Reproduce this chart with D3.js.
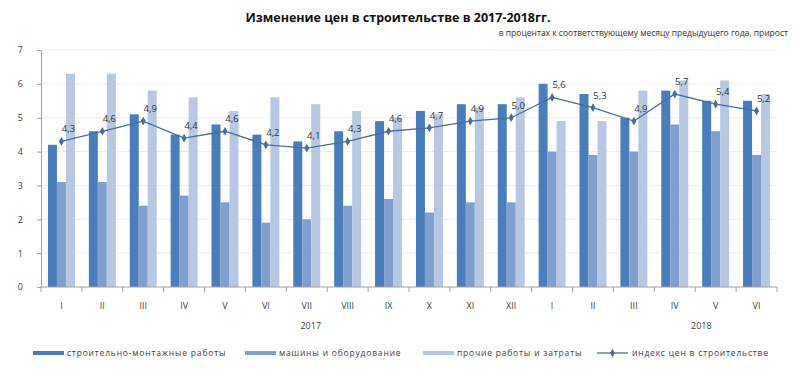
<!DOCTYPE html>
<html>
<head>
<meta charset="utf-8">
<script src="https://cdn.jsdelivr.net/npm/d3@7"></script>
<style>
  body { margin: 0; background: #fff; }
  text { font-family: "Open Sans", "DejaVu Sans", sans-serif; fill: #404040; }
  .title { font-weight: bold; font-size: 12.5px; fill: #111; }
  .sub { font-size: 8.5px; fill: #333; }
  .tick text { font-size: 9px; fill: #404040; }
  .lbl { font-size: 9.5px; fill: #333; }
  .leg { font-size: 8.5px; letter-spacing: 0.8px; fill: #404040; }
</style>
</head>
<body>
<div id="chart"></div>
<script>

var months = ["I","II","III","IV","V","VI","VII","VIII","IX","X","XI","XII",
              "I","II","III","IV","V","VI"];
var smr    = [4.2,4.6,5.1,4.5,4.8,4.5,4.3,4.6,4.9,5.2,5.4,5.4, 6.0,5.7,5.0,5.8,5.5,5.5];
var mach   = [3.1,3.1,2.4,2.7,2.5,1.9,2.0,2.4,2.6,2.2,2.5,2.5, 4.0,3.9,4.0,4.8,4.6,3.9];
var other  = [6.3,6.3,5.8,5.6,5.2,5.6,5.4,5.2,5.0,5.1,5.3,5.6, 4.9,4.9,5.8,6.1,6.1,5.7];
var index  = [4.3,4.6,4.9,4.4,4.6,4.2,4.1,4.3,4.6,4.7,4.9,5.0, 5.6,5.3,4.9,5.7,5.4,5.2];
var yTicks = [0,1,2,3,4,5,6,7];
var seriesNames = ["строительно-монтажные работы", "машины и оборудование",
                   "прочие работы и затраты", "индекс цен в строительстве"];
var colors = ["#4a7dba", "#809fcf", "#b8c7e2", "#4a6c9f"];

var W = 800, H = 372;
var margin = { left: 41, right: 23, top: 50, bottom: 85 };
var width = W - margin.left - margin.right;
var height = H - margin.top - margin.bottom;

var svg = d3.select("#chart").append("svg")
    .attr("width", W).attr("height", H);

svg.append("text").attr("class", "title")
    .attr("x", 398).attr("y", 22).attr("text-anchor", "middle")
    .text("Изменение цен в строительстве  в 2017-2018гг.");

svg.append("text").attr("class", "sub")
    .attr("x", 788).attr("y", 36).attr("text-anchor", "end")
    .text("в процентах к соответствующему месяцу предыдущего года, прирост");

var g = svg.append("g")
    .attr("transform", "translate(" + margin.left + "," + margin.top + ")");

var idx = d3.range(months.length);

var x = d3.scaleBand().domain(idx).range([0, width]).paddingInner(0).paddingOuter(0);
var inner = d3.scaleBand().domain([0,1,2]).range([x.bandwidth() * 0.17, x.bandwidth() * 0.83]);
var y = d3.scaleLinear().domain([0, 7]).range([height, 0]);

// gridlines
g.selectAll(".grid").data(yTicks.slice(1)).enter()
  .append("line")
    .attr("x1", 0).attr("x2", width)
    .attr("y1", function(d){ return y(d) }).attr("y2", function(d){ return y(d) })
    .attr("stroke", "#eeeeee").attr("stroke-width", 1);

// bars
var series = [smr, mach, other];
series.forEach(function(s, k) {
  g.selectAll(".bar" + k).data(s).enter()
    .append("rect")
      .attr("x", function(d, i){ return x(i) + inner(k) })
      .attr("y", function(d){ return y(d) })
      .attr("width", inner.bandwidth())
      .attr("height", function(d){ return height - y(d) })
      .attr("fill", colors[k]);
});

// axes
var yAxis = d3.axisLeft(y).tickValues(yTicks).tickFormat(d3.format("d")).tickSize(4).tickPadding(14);
var ya = g.append("g").attr("class", "axis").call(yAxis);
ya.select(".domain").attr("stroke", "#a0a0a0");
ya.selectAll(".tick line").attr("stroke", "#a0a0a0");

var xa = g.append("g").attr("transform", "translate(0," + height + ")");
xa.append("line").attr("x1", 0).attr("x2", width).attr("stroke", "#a0a0a0");
xa.selectAll(".xt").data(d3.range(months.length + 1)).enter()
  .append("line")
    .attr("x1", function(d){ return d * x.step() }).attr("x2", function(d){ return d * x.step() })
    .attr("y1", 0).attr("y2", 5).attr("stroke", "#a0a0a0");
xa.selectAll(".xl").data(months).enter()
  .append("text")
    .attr("x", function(d, i){ return x(i) + x.bandwidth() / 2 })
    .attr("y", 22)
    .attr("text-anchor", "middle")
    .style("font-size", "9px")
    .text(function(d){ return d });

xa.append("text").attr("x", x(6) + x.bandwidth() / 2 + 4).attr("y", 42)
    .attr("text-anchor", "middle").style("font-size", "9px").text("2017");
xa.append("text").attr("x", x(15) + x.bandwidth() * 1.15).attr("y", 42)
    .attr("text-anchor", "middle").style("font-size", "9px").text("2018");

// price index line
var line = d3.line()
    .x(function(d, i){ return x(i) + x.bandwidth() / 2 })
    .y(function(d){ return y(d) });

g.append("path").datum(index)
    .attr("d", line).attr("fill", "none")
    .attr("stroke", colors[3]).attr("stroke-width", 1.3);

var diamond = d3.symbol().type(d3.symbolDiamond).size(22);
g.selectAll(".pt").data(index).enter()
  .append("path")
    .attr("d", diamond)
    .attr("transform", function(d, i){ return "translate(" + (x(i) + x.bandwidth() / 2) + "," + y(d) + ")" })
    .attr("fill", colors[3]);

g.selectAll(".lbl").data(index).enter()
  .append("text")
    .attr("class", "lbl")
    .attr("x", function(d, i){ return x(i) + x.bandwidth() / 2 + 7 })
    .attr("y", function(d){ return y(d) - 9 })
    .attr("text-anchor", "middle")
    .text(function(d){ return d.toFixed(1).replace(".", ",") });

// legend
var legX = [33, 245, 423, 597];
var leg = svg.selectAll(".legitem").data(seriesNames).enter()
  .append("g")
    .attr("transform", function(d, i){ return "translate(" + legX[i] + ",353)" });

leg.each(function(d, i) {
  var el = d3.select(this);
  if (i < 3) {
    el.append("rect").attr("x", 0).attr("y", -2).attr("width", 31).attr("height", 4)
      .attr("fill", colors[i]);
  } else {
    el.append("line").attr("x1", 0).attr("x2", 31).attr("y1", 0).attr("y2", 0)
      .attr("stroke", colors[3]).attr("stroke-width", 1.3);
    el.append("path").attr("d", diamond).attr("transform", "translate(15.5,0)")
      .attr("fill", colors[3]);
  }
  el.append("text").attr("class", "leg").attr("x", i < 3 ? 34 : 35).attr("y", 3).text(d);
});

</script>
</body>
</html>
